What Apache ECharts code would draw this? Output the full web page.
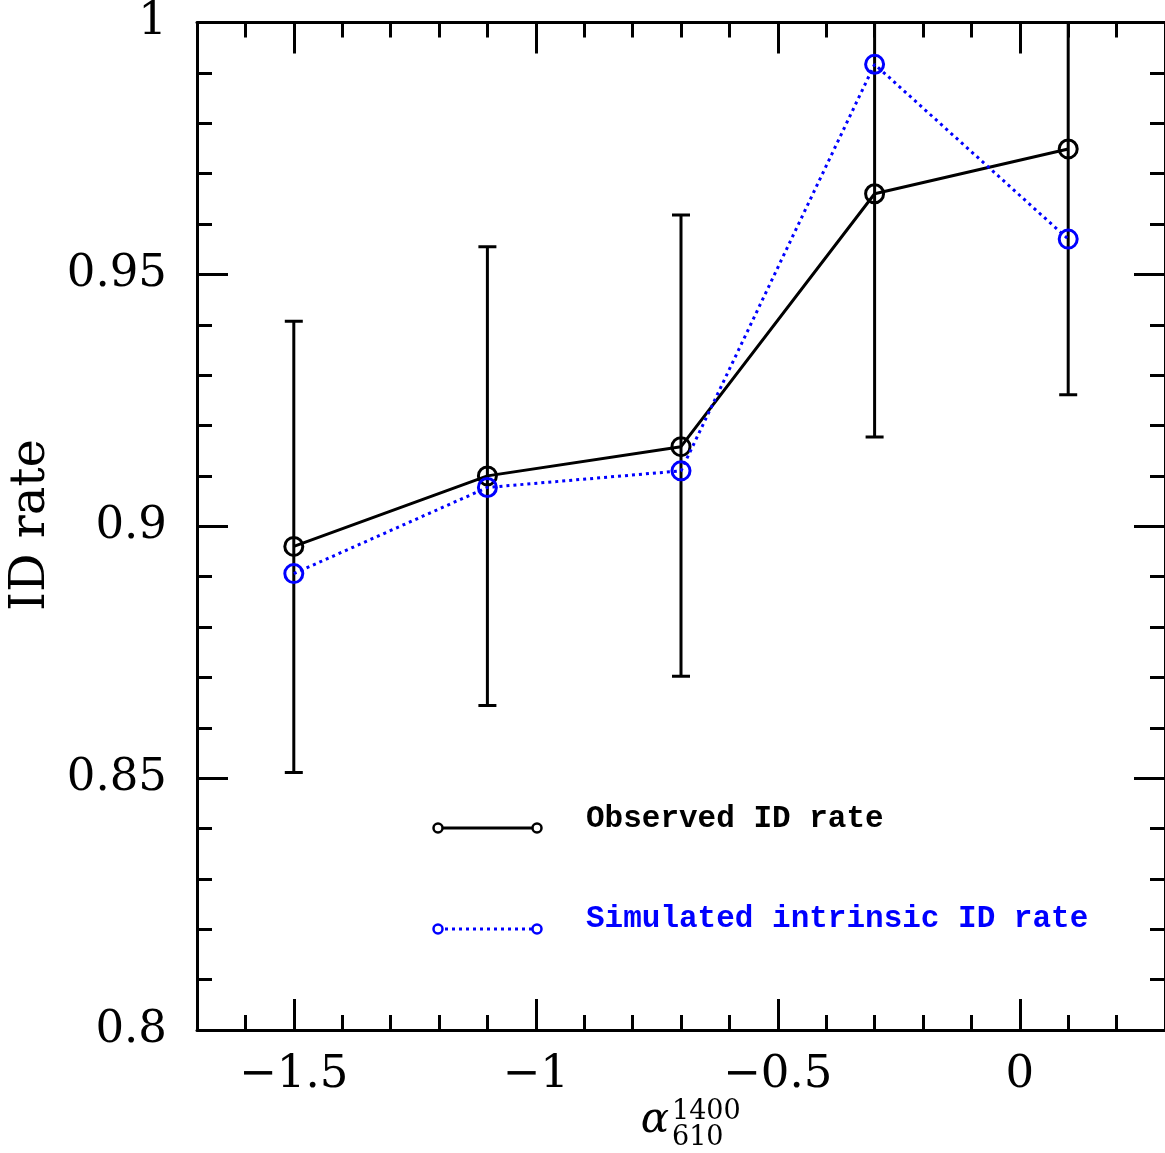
<!DOCTYPE html>
<html><head><meta charset="utf-8">
<script src="https://cdn.jsdelivr.net/npm/echarts@6/dist/echarts.min.js"></script>
<style>html,body{margin:0;padding:0;background:#fff}#c{width:1165px;height:1153px}</style>
</head><body><div id="c"></div>
<script>
// ---- data ----
const alpha = [-1.5, -1.1, -0.7, -0.3, 0.1];
const observedRate = [0.896, 0.910, 0.9158, 0.966, 0.9749];
const simulatedRate = [0.8906, 0.9077, 0.911, 0.9917, 0.957];
const errLow = [0.8511, 0.8644, 0.8702, 0.9177, 0.9261];
const errHigh = [0.9407, 0.9555, 0.9618, 1.014, 1.024];
const xTickValues = [-1.5, -1, -0.5, 0];
const yTickValues = [0.8, 0.85, 0.9, 0.95, 1];
const legendNames = ['Observed ID rate', 'Simulated intrinsic ID rate'];

const SERIF = 'DejaVu Serif';
const BLUE = '#0000ff';
const chart = echarts.init(document.getElementById('c'), null, {renderer: 'canvas'});

const tickStyle = {color: '#000', width: 3};
function mainX(pos, showLabel) {
  return {
    type: 'value', position: pos, min: -1.7, max: 0.3,
    axisLine: {show: true, onZero: false, lineStyle: {color: '#000', width: 3}},
    axisTick: {show: true, inside: true, length: 31, lineStyle: tickStyle, customValues: xTickValues},
    axisLabel: {show: showLabel, customValues: xTickValues, margin: 45, verticalAlign: 'middle',
      fontFamily: SERIF, fontSize: 45, color: '#000',
      formatter: v => String(v).replace('-', '\u2212')},
    splitLine: {show: false}
  };
}
function minorX(pos) {
  return {
    type: 'value', position: pos, min: -1.7, max: 0.3, interval: 0.1,
    axisLine: {show: false, onZero: false},
    axisTick: {show: true, inside: true, length: 15, lineStyle: tickStyle},
    axisLabel: {show: false}, splitLine: {show: false}
  };
}
function mainY(pos, showLabel) {
  return {
    type: 'value', position: pos, min: 0.8, max: 1,
    axisLine: {show: true, onZero: false, lineStyle: {color: '#000', width: 3}},
    axisTick: {show: true, inside: true, length: 31, lineStyle: tickStyle, customValues: yTickValues},
    axisLabel: {show: showLabel, customValues: yTickValues, margin: 30,
      fontFamily: SERIF, fontSize: 45, color: '#000', verticalAlign: 'middle'},
    splitLine: {show: false}
  };
}
function minorY(pos) {
  return {
    type: 'value', position: pos, min: 0.8, max: 1, interval: 0.01,
    axisLine: {show: false, onZero: false},
    axisTick: {show: true, inside: true, length: 15, lineStyle: tickStyle},
    axisLabel: {show: false}, splitLine: {show: false}
  };
}

const option = {
  animation: false,
  backgroundColor: '#fff',
  grid: {left: 197, top: 21, width: 971, height: 1009, containLabel: false},
  xAxis: [mainX('bottom', true), minorX('bottom'), mainX('top', false), minorX('top')],
  yAxis: [mainY('left', true), minorY('left'), mainY('right', false), minorY('right')],
  series: [
    {
      type: 'custom', xAxisIndex: 0, yAxisIndex: 0, clip: true, z: 2,
      data: alpha.map((a, i) => [a, errLow[i], errHigh[i]]),
      encode: {x: 0, y: [1, 2]},
      renderItem: function (params, api) {
        const x = api.value(0);
        const pLo = api.coord([x, api.value(1)]);
        const pHi = api.coord([x, api.value(2)]);
        const w = 9;
        const st = {stroke: '#000', lineWidth: 3};
        return {type: 'group', children: [
          {type: 'line', shape: {x1: pLo[0], y1: pLo[1], x2: pHi[0], y2: pHi[1]}, style: st},
          {type: 'line', shape: {x1: pLo[0] - w, y1: pLo[1], x2: pLo[0] + w, y2: pLo[1]}, style: st},
          {type: 'line', shape: {x1: pHi[0] - w, y1: pHi[1], x2: pHi[0] + w, y2: pHi[1]}, style: st}
        ]};
      }
    },
    {
      name: legendNames[0], type: 'line', xAxisIndex: 0, yAxisIndex: 0, z: 3,
      data: alpha.map((a, i) => [a, observedRate[i]]),
      symbol: 'circle', symbolSize: 18,
      itemStyle: {color: 'rgba(0,0,0,0)', borderColor: '#000', borderWidth: 3},
      lineStyle: {color: '#000', width: 3}
    },
    {
      name: legendNames[1], type: 'line', xAxisIndex: 0, yAxisIndex: 0, z: 4,
      data: alpha.map((a, i) => [a, simulatedRate[i]]),
      symbol: 'circle', symbolSize: 18,
      itemStyle: {color: 'rgba(0,0,0,0)', borderColor: BLUE, borderWidth: 3},
      lineStyle: {color: BLUE, width: 3, type: [3, 4]}
    }
  ],
  graphic: [
    // y axis title
    {type: 'text', x: 32, y: 525, rotation: Math.PI / 2,
      style: {text: 'ID rate', font: '48px "DejaVu Serif"', fill: '#000', align: 'center', verticalAlign: 'middle'}},
    // x axis title: alpha with sub/superscript
    {type: 'text', x: 655, y: 1121,
      style: {text: '\u03b1', font: 'italic 42px "DejaVu Serif"', fill: '#000', align: 'center', verticalAlign: 'middle'}},
    {type: 'text', x: 672, y: 1112,
      style: {text: '1400', font: '27px "DejaVu Serif"', fill: '#000', align: 'left', verticalAlign: 'middle'}},
    {type: 'text', x: 672, y: 1138,
      style: {text: '610', font: '27px "DejaVu Serif"', fill: '#000', align: 'left', verticalAlign: 'middle'}},
    // legend: observed
    {type: 'line', shape: {x1: 438, y1: 828, x2: 537, y2: 828}, style: {stroke: '#000', lineWidth: 3}},
    {type: 'circle', shape: {cx: 438, cy: 828, r: 4.5}, style: {stroke: '#000', lineWidth: 2.5, fill: '#fff'}},
    {type: 'circle', shape: {cx: 537, cy: 828, r: 4.5}, style: {stroke: '#000', lineWidth: 2.5, fill: '#fff'}},
    {type: 'text', x: 586, y: 819,
      style: {text: legendNames[0], font: 'bold 31px "Liberation Mono"', fill: '#000', align: 'left', verticalAlign: 'middle'}},
    // legend: simulated
    {type: 'line', shape: {x1: 438, y1: 929, x2: 537, y2: 929}, style: {stroke: BLUE, lineWidth: 3, lineDash: [3, 4]}},
    {type: 'circle', shape: {cx: 438, cy: 929, r: 4.5}, style: {stroke: BLUE, lineWidth: 2.5, fill: '#fff'}},
    {type: 'circle', shape: {cx: 537, cy: 929, r: 4.5}, style: {stroke: BLUE, lineWidth: 2.5, fill: '#fff'}},
    {type: 'text', x: 586, y: 919,
      style: {text: legendNames[1], font: 'bold 31px "Liberation Mono"', fill: BLUE, align: 'left', verticalAlign: 'middle'}}
  ]
};
chart.setOption(option);
</script>
</body></html>
